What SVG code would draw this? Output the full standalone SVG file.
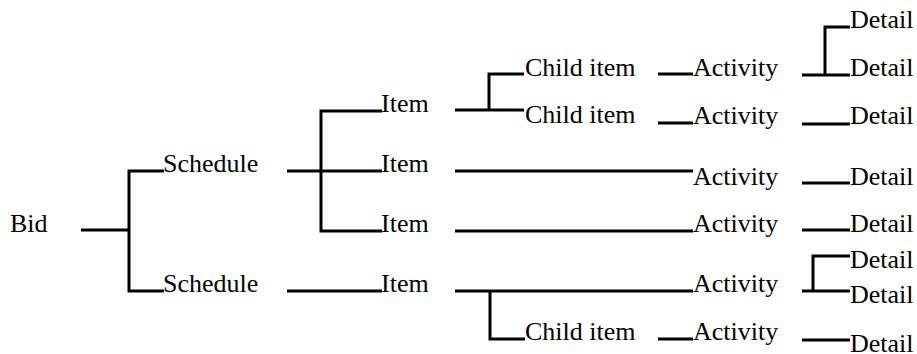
<svg xmlns="http://www.w3.org/2000/svg" width="917" height="354" viewBox="0 0 917 354">
  <style>
    .lbl { font-family: "Liberation Serif", "Times New Roman", serif; font-size: 26px; fill: #000; }
    .wire { stroke: #000; stroke-width: 3; fill: none; stroke-linejoin: miter; }
  </style>
  <rect width="917" height="354" fill="#fff"/>

  <!-- connectors: tree brackets and stubs -->
  <g id="connectors" class="wire">
    <line x1="81" y1="230" x2="129" y2="230"/>
    <polyline points="164,171 129,171 129,291 164,291"/>

    <polyline points="382,111 321,111 321,231 382,231"/>
    <line x1="287" y1="171" x2="382" y2="171"/>
    <line x1="287" y1="291" x2="382" y2="291"/>

    <line x1="455" y1="110" x2="524" y2="110"/>
    <polyline points="524,74 489,74 489,110"/>
    <line x1="658" y1="74" x2="693" y2="74"/>
    <line x1="658" y1="123" x2="693" y2="123"/>

    <line x1="455" y1="171" x2="693" y2="171"/>
    <line x1="455" y1="231" x2="693" y2="231"/>

    <line x1="455" y1="291" x2="693" y2="291"/>
    <polyline points="490,291 490,339 525,339"/>
    <line x1="658" y1="339" x2="693" y2="339"/>

    <line x1="802" y1="75" x2="850" y2="75"/>
    <polyline points="850,27 825,27 825,75"/>
    <line x1="802" y1="124" x2="850" y2="124"/>
    <line x1="802" y1="183" x2="850" y2="183"/>
    <line x1="802" y1="230" x2="850" y2="230"/>
    <line x1="802" y1="291" x2="850" y2="291"/>
    <polyline points="850,256 813,256 813,291"/>
    <line x1="802" y1="340" x2="850" y2="340"/>
  </g>

  <g font-family="Liberation Serif, Times New Roman, serif" font-size="26">
    <!-- root -->
    <g id="bid"><text class="lbl" x="10" y="232">Bid</text></g>

    <!-- schedules -->
    <g id="schedule-1"><text class="lbl" x="163" y="172">Schedule</text></g>
    <g id="schedule-2"><text class="lbl" x="163" y="292">Schedule</text></g>

    <!-- items -->
    <g id="item-1"><text class="lbl" x="381" y="112">Item</text></g>
    <g id="item-2"><text class="lbl" x="381" y="172">Item</text></g>
    <g id="item-3"><text class="lbl" x="381" y="232">Item</text></g>
    <g id="item-4"><text class="lbl" x="381" y="292">Item</text></g>

    <!-- child items -->
    <g id="child-item-1"><text class="lbl" x="525" y="76">Child item</text></g>
    <g id="child-item-2"><text class="lbl" x="525" y="123">Child item</text></g>
    <g id="child-item-3"><text class="lbl" x="525" y="340">Child item</text></g>

    <!-- activities -->
    <g id="activity-1"><text class="lbl" x="693" y="76">Activity</text></g>
    <g id="activity-2"><text class="lbl" x="693" y="124">Activity</text></g>
    <g id="activity-3"><text class="lbl" x="693" y="185">Activity</text></g>
    <g id="activity-4"><text class="lbl" x="693" y="232">Activity</text></g>
    <g id="activity-5"><text class="lbl" x="693" y="292">Activity</text></g>
    <g id="activity-6"><text class="lbl" x="693" y="340">Activity</text></g>

    <!-- details -->
    <g id="detail-1"><text class="lbl" x="850" y="28">Detail</text></g>
    <g id="detail-2"><text class="lbl" x="850" y="76">Detail</text></g>
    <g id="detail-3"><text class="lbl" x="850" y="124">Detail</text></g>
    <g id="detail-4"><text class="lbl" x="850" y="185">Detail</text></g>
    <g id="detail-5"><text class="lbl" x="850" y="232">Detail</text></g>
    <g id="detail-6"><text class="lbl" x="850" y="268">Detail</text></g>
    <g id="detail-7"><text class="lbl" x="850" y="303">Detail</text></g>
    <g id="detail-8"><text class="lbl" x="850" y="352">Detail</text></g>
  </g>
</svg>
